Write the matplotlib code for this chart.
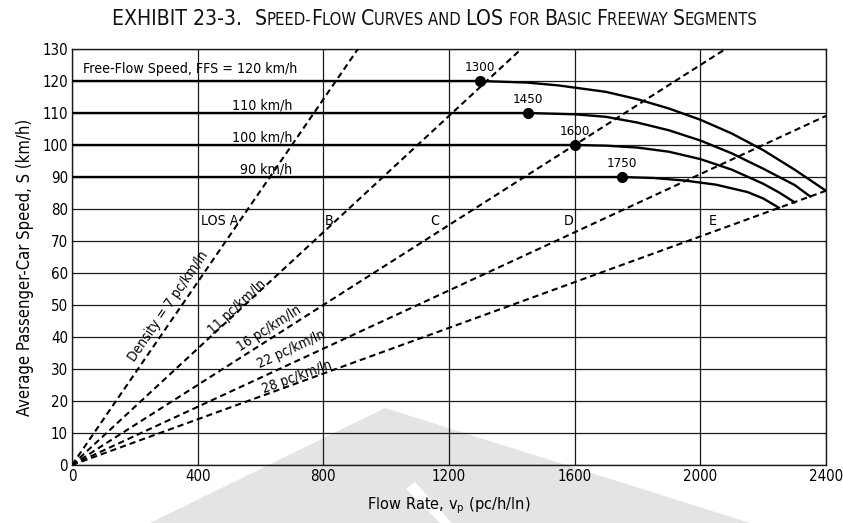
import numpy as np
import matplotlib
matplotlib.use("Agg")
import matplotlib.pyplot as plt
from matplotlib import font_manager
from matplotlib.patches import Polygon
from matplotlib.offsetbox import TextArea, HPacker, AnnotationBbox

# look for a narrow/condensed sans face, else plain Liberation Sans
FONT, STRETCH, narrow = "Liberation Sans", "normal", False
for f in font_manager.fontManager.ttflist:
    fn = f.fname.lower()
    if ("narrow" in fn or "condensed" in fn) and "semi" not in fn and "extra" not in fn \
            and f.style == "normal" and f.weight in (400, "normal", "regular"):
        FONT, STRETCH, narrow = f.name, f.stretch, True
        break
plt.rcParams["font.family"] = [FONT, "DejaVu Sans"]
plt.rcParams["font.stretch"] = STRETCH
plt.rcParams["mathtext.fontset"] = "custom"
plt.rcParams["mathtext.rm"] = FONT
plt.rcParams["mathtext.it"] = FONT
k = 1.0 if narrow else 0.87

# ---- speed-flow curves (flow pc/h/ln, speed km/h) ----
ffs = [120, 110, 100, 90]
breakpoints = [1300, 1450, 1600, 1750]

flow_120 = [0, 1300, 1450, 1550, 1700, 1800, 1900, 2000, 2100, 2200, 2300, 2400]
speed_120 = [120, 120, 119.5, 118.6, 116.6, 114.3, 111.4, 107.9, 103.6, 98.4, 92.3, 85.7]

flow_110 = [0, 1450, 1600, 1700, 1800, 1900, 2000, 2100, 2200, 2300, 2350]
speed_110 = [110, 110, 109.6, 108.8, 107.0, 104.6, 101.4, 97.4, 92.6, 87.5, 83.9]

flow_100 = [0, 1600, 1700, 1800, 1900, 2000, 2100, 2200, 2250, 2300]
speed_100 = [100, 100, 99.8, 99.2, 97.9, 95.6, 92.3, 87.9, 85.2, 82.1]

flow_90 = [0, 1750, 1850, 1950, 2050, 2150, 2200, 2250]
speed_90 = [90, 90, 89.7, 88.9, 87.6, 85.3, 83.3, 80.4]

curves = [(flow_120, speed_120), (flow_110, speed_110),
          (flow_100, speed_100), (flow_90, speed_90)]

# ---- density boundaries (pc/km/ln) and LOS zones ----
densities = [7, 11, 16, 22, 28]
density_labels = ["Density = 7 pc/km/ln", "11 pc/km/ln", "16 pc/km/ln",
                  "22 pc/km/ln", "28 pc/km/ln"]
density_label_at = [(307, 49.7), (524, 49.4), (626, 42.8), (697, 36.3), (716, 27.5)]

los_labels = ["LOS A", "B", "C", "D", "E"]
los_label_flow = [470, 820, 1155, 1580, 2040]

ffs_labels = ["Free-Flow Speed, FFS = 120 km/h", "110 km/h", "100 km/h", "90 km/h"]

x_max, y_max = 2400, 130

fig = plt.figure(figsize=(8.43, 5.23), dpi=100)
fig.patch.set_facecolor("white")

# faint watermark behind the chart
W, H = 843, 523
def px(pts):
    return [(x / W, 1 - y / H) for x, y in pts]
fig.add_artist(Polygon(px([(150, 523), (385, 408), (750, 523)]), closed=True,
                       facecolor="#e4e4e4", edgecolor="none",
                       transform=fig.transFigure, zorder=-2))
fig.add_artist(Polygon(px([(406, 489), (415, 482), (452, 523), (440, 523)]), closed=True,
                       facecolor="white", edgecolor="none",
                       transform=fig.transFigure, zorder=-1))

ax = fig.add_axes([72 / W, 1 - 465 / H, (826 - 72) / W, (465 - 49) / H])
ax.set_facecolor("none")
ax.set_xlim(0, x_max)
ax.set_ylim(0, y_max)
ax.set_xticks(range(0, x_max + 1, 400))
ax.set_yticks(range(0, y_max + 1, 10))
ax.tick_params(length=0, labelsize=10.8 * k, pad=3)
ax.grid(True, color="#1a1a1a", lw=0.9)
ax.set_axisbelow(True)
for s in ax.spines.values():
    s.set_color("#1a1a1a")
    s.set_linewidth(1.0)

# density rays from the origin
for d, lab, (lx, ly) in zip(densities, density_labels, density_label_at):
    x_end = min(x_max, y_max * d)
    ax.plot([0, x_end], [0, x_end / d], color="black", lw=1.5,
            linestyle=(0, (3, 1.9)), zorder=3)
    p0 = ax.transData.transform((0, 0))
    p1 = ax.transData.transform((1000, 1000 / d))
    ang = np.degrees(np.arctan2(p1[1] - p0[1], p1[0] - p0[0]))
    ax.text(lx, ly, lab, rotation=ang, rotation_mode="anchor",
            ha="center", va="center", fontsize=9.9 * k, zorder=4)

# speed-flow curves with breakpoint dots
for (fx, sy), bp, v in zip(curves, breakpoints, ffs):
    ax.plot(fx, sy, color="black", lw=1.7, zorder=5)
    ax.plot([bp], [v], "o", color="black", ms=7, zorder=6)
    ax.annotate(str(bp), (bp, v), xytext=(0, 5), textcoords="offset points",
                ha="center", va="bottom", fontsize=9.6 * k)

ax.text(35, 122.6, ffs_labels[0], ha="left", va="baseline", fontsize=10.2 * k)
for lab, v in zip(ffs_labels[1:], ffs[1:]):
    ax.text(702, v + 1.0, lab, ha="right", va="baseline", fontsize=10.2 * k)

for lab, fx in zip(los_labels, los_label_flow):
    ax.text(fx, 76.2, lab, ha="center", va="center", fontsize=10.2 * k)

ax.set_xlabel(r"Flow Rate, v$_\mathregular{p}$ (pc/h/ln)", fontsize=11.7 * k, labelpad=8)
ax.set_ylabel("Average Passenger-Car Speed, S (km/h)", fontsize=11.9 * k)
ax.yaxis.set_label_coords(-0.05, 0.476)

# title in small caps: big initials, smaller remainder
BIG, SMALL = 15.2 * k, 11.9 * k
title_parts = [("EXHIBIT 23-3.  ", BIG), ("S", BIG), ("PEED-", SMALL), ("F", BIG),
               ("LOW ", SMALL), ("C", BIG), ("URVES AND ", SMALL), ("LOS ", BIG),
               ("FOR ", SMALL), ("B", BIG), ("ASIC ", SMALL), ("F", BIG),
               ("REEWAY ", SMALL), ("S", BIG), ("EGMENTS", SMALL)]
boxes = [TextArea(t, textprops=dict(fontsize=sz, color="#111111")) for t, sz in title_parts]
title = HPacker(children=boxes, align="baseline", pad=0, sep=0)
fig.add_artist(AnnotationBbox(title, (435 / W, 1 - 29 / H), xycoords="figure fraction",
                              box_alignment=(0.5, 0.0), frameon=False))

fig.savefig("out.png", dpi=100)
